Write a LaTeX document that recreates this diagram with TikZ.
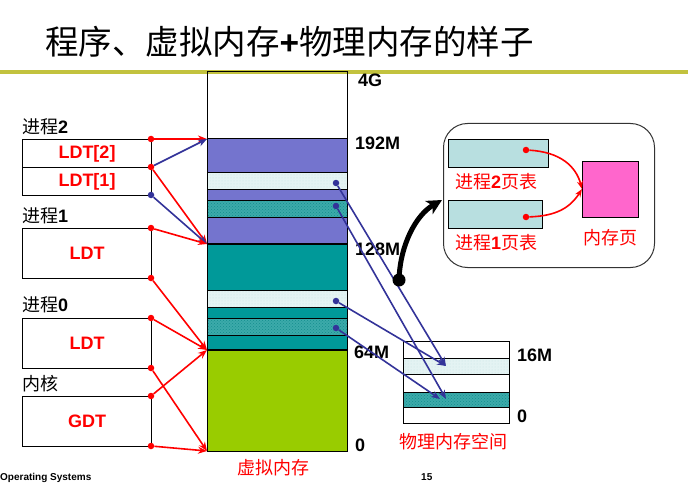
\documentclass[tikz,border=0pt]{standalone}
\usepackage{fontspec}
\setmainfont{Liberation Sans}
\newfontfamily\cjk{Noto Sans CJK SC}
\usetikzlibrary{arrows.meta,patterns}
\definecolor{gold}{HTML}{C2C23E}
\definecolor{vpurple}{HTML}{7474CE}
\definecolor{vteal}{HTML}{009999}
\definecolor{vgreen}{HTML}{99CC00}
\definecolor{vlight}{HTML}{E4F3F3}
\definecolor{vlightdot}{HTML}{C6E2E2}
\definecolor{vdteal}{HTML}{3CAAAA}
\definecolor{vdtealdot}{HTML}{138F8F}
\definecolor{lblue}{HTML}{333399}
\definecolor{ptab}{HTML}{B8DFE0}
\definecolor{pinkc}{HTML}{FF66CC}
\begin{document}
\begin{tikzpicture}[x=1pt,y=-1pt,
  lbl/.style={font=\fontsize{18}{20}\selectfont\bfseries, anchor=west, inner sep=0},
  cjklbl/.style={font=\fontsize{18}{20}\selectfont\cjk, inner sep=0},
  ldtbox/.style={draw, line width=1pt, minimum width=129pt, text=red, font=\fontsize{18}{20}\selectfont\bfseries, anchor=north west, inner sep=0},
  rarr/.style={red, line width=1.6pt, -{Stealth[length=9pt,width=7pt]}},
  barr/.style={lblue, line width=1.6pt, -{Stealth[length=9pt,width=7pt]}},
  rdot/.style={circle, fill=red, inner sep=0, minimum size=6.5pt},
  bdot/.style={circle, fill=lblue, inner sep=0, minimum size=6.5pt},
  lightband/.style={fill=vlight, postaction={pattern=dots, pattern color=vlightdot}},
  dtealband/.style={fill=vdteal, postaction={pattern=crosshatch dots, pattern color=vdtealdot}},
  foottext/.style={font=\fontsize{10}{11}\selectfont\bfseries, anchor=north west, inner sep=0},
]
\useasboundingbox (0,0) rectangle (688,484);
\fill[white] (0,0) rectangle (688,484);

% title and rule
\node[font=\fontsize{33.5}{38}\selectfont\cjk, anchor=west, inner sep=0] (title) at (45,42) {程序、虚拟内存{\rmfamily\bfseries +}物理内存的样子};
\fill[gold] (0,70) rectangle (688,74);

% virtual memory column
\fill[white] (207,74) rectangle (347,139);
\fill[vpurple] (207,139) rectangle (347,244);
\fill[lightband] (207,172) rectangle (347,189);
\fill[dtealband] (207,200) rectangle (347,217);
\fill[vteal] (207,244) rectangle (347,350);
\fill[lightband] (207,290) rectangle (347,307);
\fill[dtealband] (207,318) rectangle (347,335);
\fill[vgreen] (207,350) rectangle (347,451);
\foreach \yy in {139,172,189,200,217,290,307,318,335}{\draw[line width=1pt] (207,\yy) -- (347,\yy);}
\draw[line width=2.2pt] (207,244) -- (347,244);
\draw[line width=2.2pt] (207,350) -- (347,350);
\draw[line width=1pt] (207,72) rectangle (347,451);

% virtual labels
\node[lbl] (l4g) at (358,80) {4G};
\node[lbl] (l192) at (355,143) {192M};
\node[lbl] (l128) at (355,249) {128M};
\node[lbl] (l64) at (354,352) {64M};
\node[lbl] (l0) at (355,445) {0};
\node[cjklbl, text=red] (vtitle) at (273,468) {虚拟内存};

% process boxes
\node[cjklbl, anchor=west] (p2) at (22,127) {进程{\rmfamily\bfseries 2}};
\node[ldtbox, minimum height=28pt] (ldt2) at (22,139) {LDT[2]};
\node[ldtbox, minimum height=28pt] (ldt1) at (22,167) {LDT[1]};
\node[cjklbl, anchor=west] (p1) at (22,216) {进程{\rmfamily\bfseries 1}};
\node[ldtbox, minimum height=50pt] (ldtp1) at (22,228) {LDT};
\node[cjklbl, anchor=west] (p0) at (22,305) {进程{\rmfamily\bfseries 0}};
\node[ldtbox, minimum height=50pt] (ldtp0) at (22,318) {LDT};
\node[cjklbl, anchor=west] (kern) at (22,384) {内核};
\node[ldtbox, minimum height=50pt] (gdt) at (22,396) {GDT};

% targets on virtual column
\coordinate (v192) at (207,139);
\coordinate (v128) at (207,244);
\coordinate (v64) at (207,350);
\coordinate (v0) at (207,451);

% dots on boxes
\node[rdot] (a1) at (151,139) {};
\node[rdot] (a2) at (151,167) {};
\node[bdot] (a3) at (151,195) {};
\node[rdot] (a4) at (151,228) {};
\node[rdot] (a5) at (151,278) {};
\node[rdot] (a6) at (151,318) {};
\node[rdot] (a7) at (151,368) {};
\node[rdot] (a8) at (151,396) {};
\node[rdot] (a9) at (151,446) {};

\draw[rarr] (a1) -- (v192);
\draw[barr] (a2) -- (v192);
\draw[rarr] (a2) -- (v128);
\draw[barr] (a3) -- (v128);
\draw[rarr] (a4) -- (v128);
\draw[rarr] (a5) -- (v64);
\draw[rarr] (a6) -- (v64);
\draw[rarr] (a7) -- (v0);
\draw[rarr] (a8) -- (v64);
\draw[rarr] (a9) -- (v0);

% physical memory column
\fill[white] (403,341) rectangle (509,423);
\fill[lightband] (403,358) rectangle (509,374);
\fill[dtealband] (403,392) rectangle (509,407);
\foreach \yy in {358,374,392,407}{\draw[line width=1pt] (403,\yy) -- (509,\yy);}
\draw[line width=1pt] (403,341) rectangle (509,423);
\node[lbl] (p16) at (517,355) {16M};
\node[lbl] (pz) at (517,416) {0};
\node[cjklbl, text=red] (ptitle) at (453,442) {物理内存空间};

% blue mapping arrows
\node[bdot] (b1) at (336,183) {};
\node[bdot] (b2) at (336,206) {};
\node[bdot] (b3) at (336,301) {};
\node[bdot] (b4) at (336,328) {};
\coordinate (q1) at (446,366);
\coordinate (q2) at (446,399);
\coordinate (q3) at (440,399);
\draw[barr] (b1) -- (q1);
\draw[barr] (b2) -- (q2);
\draw[barr] (b3) -- (q1);
\draw[barr] (b4) -- (q3);

% page table inset
\node[draw=black!80, line width=1pt, rounded corners=24pt, minimum width=211pt, minimum height=144pt, anchor=north west, inner sep=0] (inset) at (443,123) {};
\node[draw, line width=1pt, fill=ptab, minimum width=100pt, minimum height=28pt, anchor=north west, inner sep=0] (pt2) at (448,139) {};
\node[draw, line width=1pt, fill=ptab, minimum width=94pt, minimum height=28pt, anchor=north west, inner sep=0] (pt1) at (448,200) {};
\node[cjklbl, text=red, anchor=west] (pt2l) at (455,182) {进程{\rmfamily\bfseries 2}页表};
\node[cjklbl, text=red, anchor=west] (pt1l) at (455,243) {进程{\rmfamily\bfseries 1}页表};
\node[draw, line width=1pt, fill=pinkc, minimum width=56pt, minimum height=56pt, anchor=north west, inner sep=0] (page) at (582,161) {};
\node[cjklbl, text=red] (pagel) at (610,238) {内存页};
\node[rdot] (t2) at (526,150) {};
\node[rdot] (t1) at (526,217) {};
\coordinate (pin) at (582,189);
\draw[red, line width=1.6pt, -{Stealth[length=8pt,width=6pt]}] (t2) .. controls (560,152) and (576,166) .. (pin);
\draw[red, line width=1.6pt, -{Stealth[length=8pt,width=6pt]}] (t1) .. controls (556,216) and (570,208) .. (pin);

% black zoom arrow
\node[circle, fill=black, inner sep=0, minimum size=13pt] (bk) at (399,280) {};
\coordinate (bkend) at (442,200);
\draw[line width=5pt, -{Stealth[length=15pt,width=15pt,inset=4pt]}] (bk.center) .. controls (400,245) and (416,215) .. (bkend);

% footer
\node[foottext] (foot) at (0,473) {Operating Systems};
\node[foottext] (pgno) at (421,473) {15};
\end{tikzpicture}
\end{document}
